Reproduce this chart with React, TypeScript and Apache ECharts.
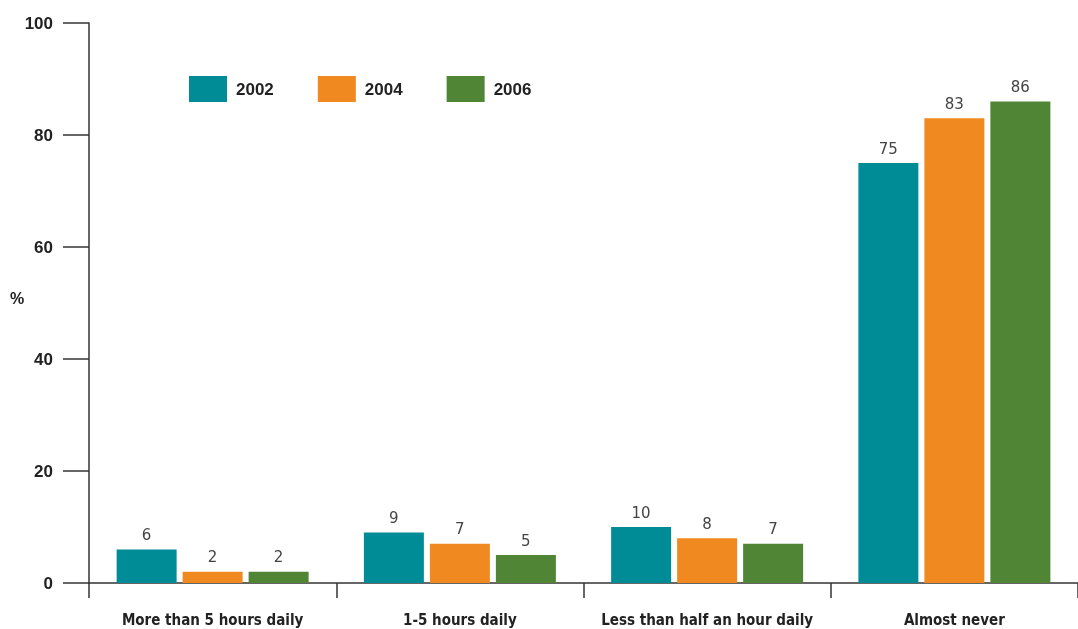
import React, { useEffect, useRef } from "react";
import * as echarts from "echarts";

const categories = ["More than 5 hours daily", "1-5 hours daily", "Less than half an hour daily", "Almost never"];
const years = ["2002", "2004", "2006"];
const values2002 = [6, 9, 10, 75];
const values2004 = [2, 7, 8, 83];
const values2006 = [2, 5, 7, 86];
const colors = ["#008C97", "#F0891F", "#4F8535"];
const yTicks = [0, 20, 40, 60, 80, 100];
const yUnit = "%";

export default function App() {
  const ref = useRef<HTMLDivElement>(null);
  useEffect(() => {
    const chart = echarts.init(ref.current!, undefined, { renderer: "svg" });
    const seriesData = [values2002, values2004, values2006];
    chart.setOption({
      animation: false,
      grid: { left: 89, top: 23, width: 992, height: 560, containLabel: false },
      graphic: [
        {
          type: "text",
          left: 10,
          top: 290,
          style: { text: yUnit, fontFamily: "Liberation Sans", fontWeight: "bold", fontSize: 16, fill: "#222" },
        },
      ],
      legend: {
        left: 189,
        top: 76,
        padding: 0,
        itemWidth: 38,
        itemHeight: 26,
        itemGap: 44,
        icon: "rect",
        textStyle: { fontFamily: "Liberation Sans", fontWeight: "bold", fontSize: 17, color: "#222", padding: [0, 0, 0, 4] },
        data: years,
      },
      xAxis: {
        type: "category",
        data: categories,
        axisLine: { lineStyle: { color: "#333", width: 1.5 } },
        axisTick: { show: true, length: 15, lineStyle: { color: "#333", width: 1.5 } },
        axisLabel: {
          interval: 0,
          margin: 29,
          fontFamily: "DejaVu Sans Condensed",
          fontWeight: "bold",
          fontSize: 15,
          color: "#222",
        },
      },
      yAxis: {
        type: "value",
        min: 0,
        max: 100,
        interval: 20,
        splitLine: { show: false },
        axisLine: { show: true, lineStyle: { color: "#333", width: 1.5 } },
        axisTick: { show: true, length: 26, lineStyle: { color: "#333", width: 1.5 } },
        axisLabel: {
          margin: 36,
          fontFamily: "Liberation Sans",
          fontWeight: "bold",
          fontSize: 17,
          color: "#222",
          formatter: (v: number) => (yTicks.includes(v) ? String(v) : ""),
        },
      },
      series: years.map((y, i) => ({
        name: y,
        type: "bar",
        data: seriesData[i],
        barWidth: 60,
        barGap: "10%",
        itemStyle: { color: colors[i] },
        label: {
          show: true,
          position: "top",
          distance: 7,
          fontFamily: "DejaVu Sans",
          fontSize: 15,
          color: "#444",
        },
      })),
    });
    return () => chart.dispose();
  }, []);
  return <div ref={ref} style={{ position: "fixed", left: 0, top: 0, width: 1078, height: 629 }} />;
}
